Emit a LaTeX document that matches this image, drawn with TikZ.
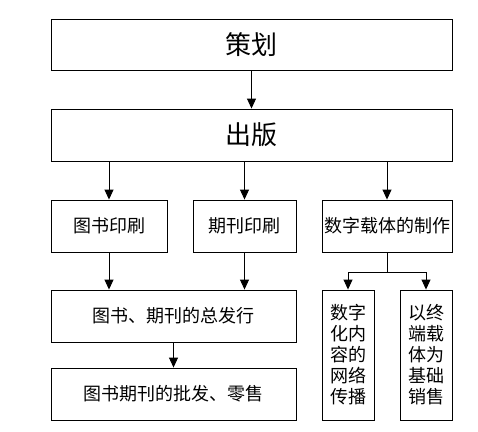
\documentclass[tikz,border=0pt]{standalone}
\usepackage{fontspec}
\newfontfamily\cjk{Noto Sans CJK SC}
\usetikzlibrary{arrows.meta}

\begin{document}
\begin{tikzpicture}[x=1pt,y=-1pt,
	box/.style={draw,line width=0.9pt,inner sep=0pt,align=center,
		font=\cjk\fontsize{18}{21}\selectfont},
	bigbox/.style={box,font=\cjk\fontsize{26}{30}\selectfont},
	arr/.style={line width=0.9pt,-{Triangle[width=9pt,length=10pt]}}]

	\useasboundingbox (0,0) rectangle (478,431);

	% top two stages
	\node[bigbox,minimum width=401,minimum height=51] (plan) at (251.5,44.5) {策划};
	\node[bigbox,minimum width=401,minimum height=52] (publish) at (251.5,135) {出版};

	% printing and digital production
	\node[box,minimum width=116,minimum height=52] (bookprint) at (109,226) {图书印刷};
	\node[box,minimum width=103,minimum height=52] (journalprint) at (244.5,226) {期刊印刷};
	\node[box,minimum width=130,minimum height=52] (digital) at (387,226) {数字载体的制作};

	% distribution
	\node[box,minimum width=245,minimum height=52] (distrib) at (173.5,316) {图书、期刊的总发行};
	\node[box,minimum width=245,minimum height=52] (retail) at (173.5,394) {图书期刊的批发、零售};

	% digital branches
	\node[box,minimum width=52,minimum height=130] (network) at (348,355) {数字\\化内\\容的\\网络\\传播};
	\node[box,minimum width=52,minimum height=130] (terminal) at (426,355) {以终\\端载\\体为\\基础\\销售};

	\draw[arr] (plan) -- (publish);
	\draw[arr] (bookprint.north |- publish.south) -- (bookprint.north);
	\draw[arr] (journalprint.north |- publish.south) -- (journalprint.north);
	\draw[arr] (digital.north |- publish.south) -- (digital.north);
	\draw[arr] (bookprint.south) -- (bookprint.south |- distrib.north);
	\draw[arr] (journalprint.south) -- (journalprint.south |- distrib.north);
	\draw[arr] (distrib) -- (retail);

	\coordinate (fork) at (387,272);
	\draw[line width=0.9pt] (digital) -- (fork);
	\draw[arr] (fork) -| (network.north);
	\draw[arr] (fork) -| (terminal.north);
\end{tikzpicture}
\end{document}
